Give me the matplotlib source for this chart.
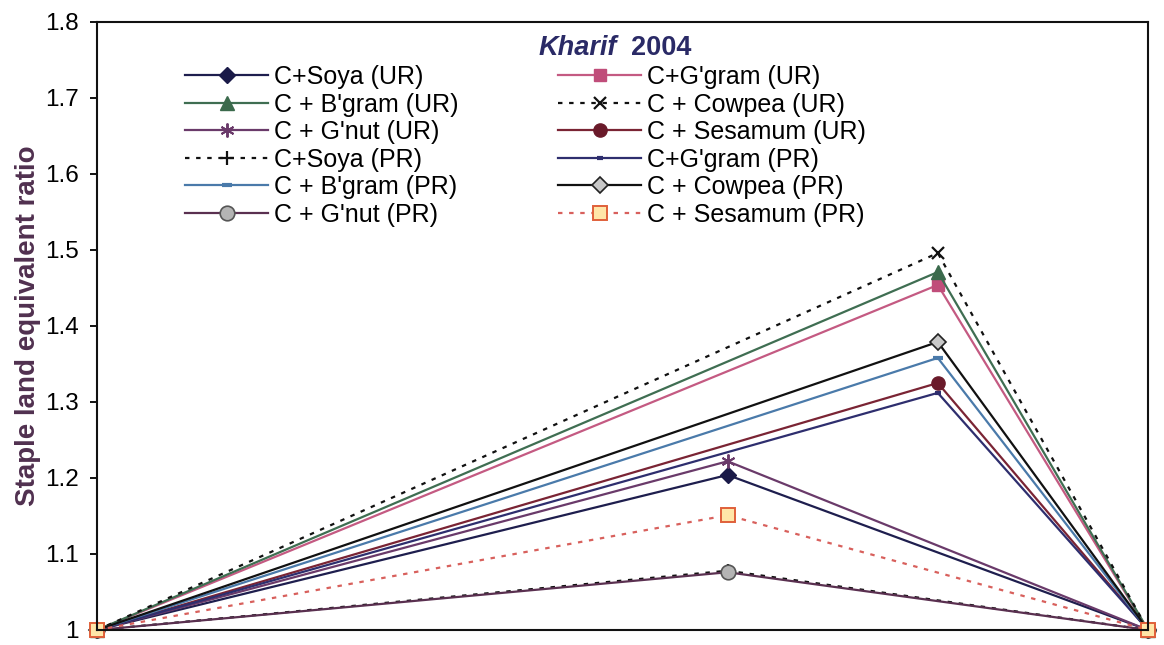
import numpy as np
import matplotlib.pyplot as plt

plt.rcParams['font.family'] = ['Liberation Sans', 'DejaVu Sans']

nan = np.nan
# x positions of the four points (left end, two peaks, right end)
x = [0, 3, 4, 5]

names = ["C+Soya (UR)", "C+G'gram (UR)", "C + B'gram (UR)", "C + Cowpea (UR)",
         "C + G'nut (UR)", "C + Sesamum (UR)", "C+Soya (PR)", "C+G'gram (PR)",
         "C + B'gram (PR)", "C + Cowpea (PR)", "C + G'nut (PR)", "C + Sesamum (PR)"]

soya_ur = [1, 1.204, nan, 1]
ggram_ur = [1, nan, 1.454, 1]
bgram_ur = [1, nan, 1.471, 1]
cowpea_ur = [1, nan, 1.496, 1]
gnut_ur = [1, 1.222, nan, 1]
sesamum_ur = [1, nan, 1.325, 1]
soya_pr = [1, 1.078, nan, 1]
ggram_pr = [1, nan, 1.312, 1]
bgram_pr = [1, nan, 1.358, 1]
cowpea_pr = [1, nan, 1.379, 1]
gnut_pr = [1, 1.076, nan, 1]
sesamum_pr = [1, 1.151, nan, 1]

series = [soya_ur, ggram_ur, bgram_ur, cowpea_ur, gnut_ur, sesamum_ur,
          soya_pr, ggram_pr, bgram_pr, cowpea_pr, gnut_pr, sesamum_pr]

dot = (0, (2, 3))
styles = [
    dict(color='#1e1e4e', ls='-', marker='D', ms=8, mfc='#1a1a48', mec='#1a1a48'),
    dict(color='#c45a82', ls='-', marker='s', ms=9, mfc='#c04d7a', mec='#c04d7a'),
    dict(color='#3f6e52', ls='-', marker='^', ms=9.5, mfc='#3b6a4c', mec='#3b6a4c'),
    dict(color='#111111', ls=dot, marker='x', ms=8.5, mfc='k', mec='#111111', mew=1.6),
    dict(color='#6a3a6a', ls='-', marker=(6, 2, 0), ms=10, mfc='#6a3a6a', mec='#6a3a6a', mew=1.4),
    dict(color='#7a2434', ls='-', marker='o', ms=9.5, mfc='#6a1a2a', mec='#6a1a2a'),
    dict(color='#111111', ls=dot, marker='+', ms=10, mfc='k', mec='#111111', mew=1.6),
    dict(color='#2e2e6e', ls='-', marker='_', ms=5, mfc='#2e2e6e', mec='#2e2e6e', mew=3),
    dict(color='#4a7aaa', ls='-', marker='_', ms=7, mfc='#4a7aaa', mec='#4a7aaa', mew=3),
    dict(color='#111111', ls='-', marker='D', ms=8.5, mfc='#c8c8c8', mec='#222222', mew=1.2),
    dict(color='#5a3050', ls='-', marker='o', ms=10.5, mfc='#b4b4b4', mec='#555555', mew=1.2),
    dict(color='#d8605c', ls=dot, marker='s', ms=10, mfc='#ffe6a8', mec='#e0603a', mew=1.4),
]

fig = plt.figure(figsize=(11.64, 6.45), dpi=100)
ax = fig.add_axes([97 / 1164, 15 / 645, 1051 / 1164, 608 / 645])

xs = np.array(x, dtype=float)
handles = []
for name, ys, st in zip(names, series, styles):
    ys = np.array(ys, dtype=float)
    ok = ~np.isnan(ys)
    h, = ax.plot(xs[ok], ys[ok], label=name, lw=1.6, clip_on=False, **st)
    handles.append(h)

ax.set_xlim(0, 5)
ax.set_ylim(1, 1.8)
ax.set_yticks(np.arange(1, 1.81, 0.1))
ax.set_yticklabels(['%g' % round(v, 1) for v in np.arange(1, 1.81, 0.1)])
ax.set_xticks([])
ax.tick_params(axis='y', labelsize=17.5, length=5, width=1.3, direction='out', pad=8)
for sp in ax.spines.values():
    sp.set_linewidth(1.5)
    sp.set_color('#111111')

ax.set_ylabel('Staple land equivalent ratio', fontsize=20, fontweight='bold', color='#50304f',
              va='center')
ax.yaxis.set_label_coords(-0.066, 0.5)

ax.text(0.495, 0.957, 'Kharif', transform=ax.transAxes, ha='right', va='center',
        fontsize=19.5, fontweight='bold', fontstyle='italic', color='#2a2a66')
ax.text(0.508, 0.957, '2004', transform=ax.transAxes, ha='left', va='center',
        fontsize=19.5, fontweight='bold', color='#2a2a66')

order = [0, 2, 4, 6, 8, 10, 1, 3, 5, 7, 9, 11]
ax.legend([handles[i] for i in order], [names[i] for i in order], ncol=2,
          loc='upper left', bbox_to_anchor=(0.084, 0.929), frameon=False,
          fontsize=18, handlelength=3.3, handletextpad=0.24, columnspacing=4.0,
          labelspacing=0.14, borderpad=0, borderaxespad=0)

fig.savefig('out.png', dpi=100)
